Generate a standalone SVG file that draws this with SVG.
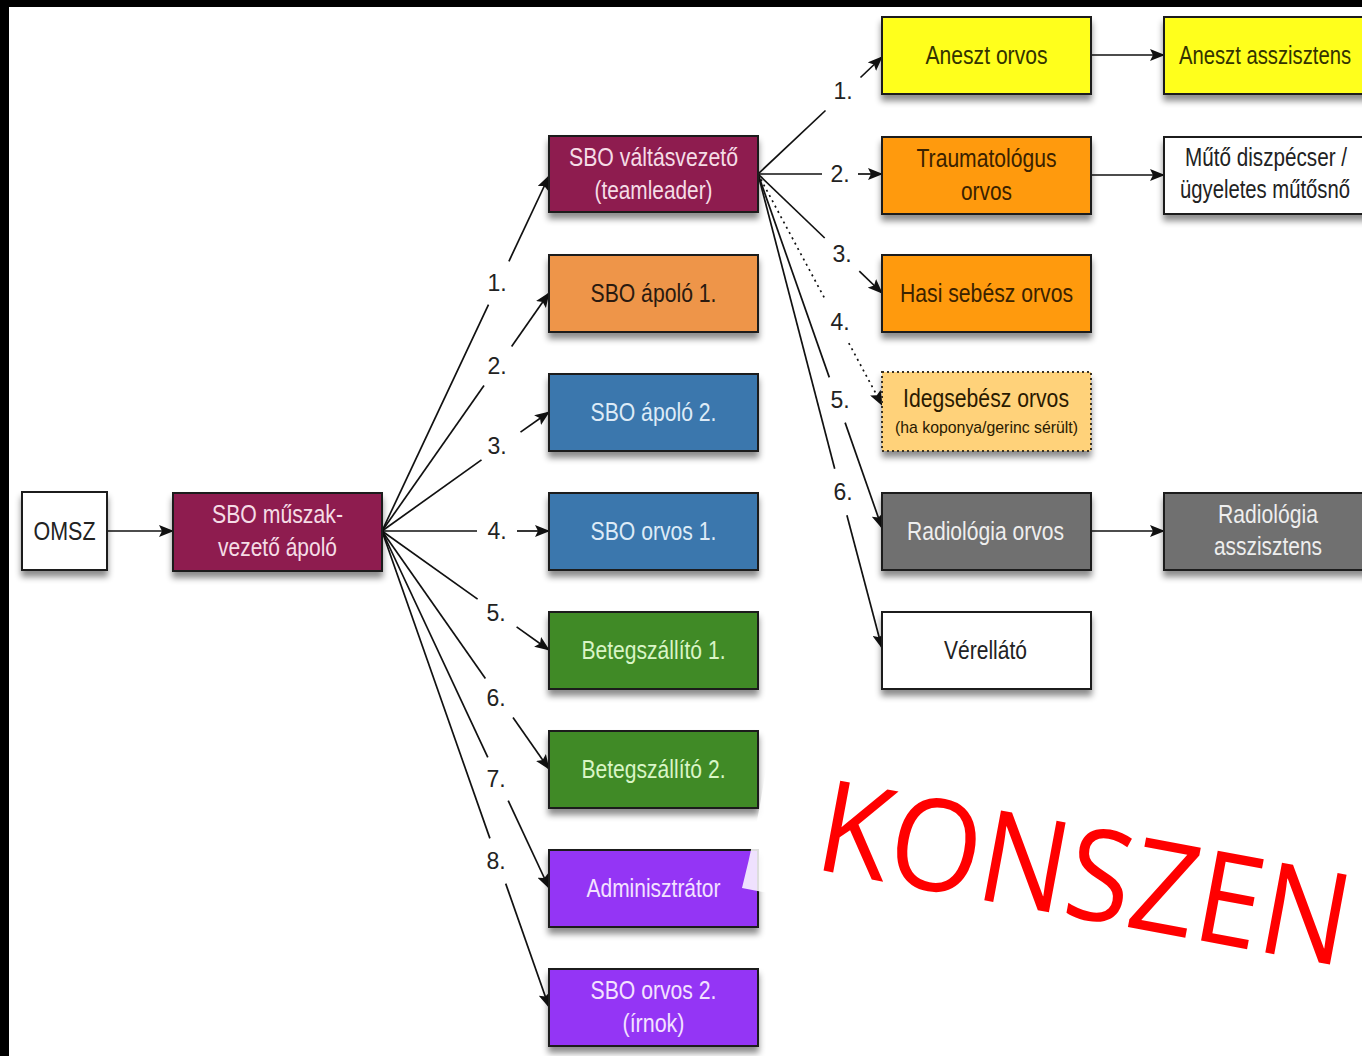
<svg xmlns="http://www.w3.org/2000/svg" width="1362" height="1056" viewBox="0 0 1362 1056">
<defs>
<filter id="sh" x="-10%" y="-20%" width="125%" height="150%">
<feDropShadow dx="0" dy="6" stdDeviation="3" flood-color="#000" flood-opacity="0.45"/>
</filter>
<marker id="ah" markerWidth="15" markerHeight="12" refX="14" refY="6" orient="auto" markerUnits="userSpaceOnUse">
<path d="M0,0 L15,6 L0,12 L3,6 Z" fill="#111"/>
</marker>
</defs>
<style>
.box{stroke:#1c1c1c;stroke-width:2;filter:url(#sh)}
.t{font-family:"Liberation Sans",Arial,sans-serif;font-size:26px;text-anchor:middle}
.lbl{font-family:"Liberation Sans",Arial,sans-serif;font-size:23px;fill:#222;text-anchor:middle}
.e{stroke:#111;stroke-width:1.7;fill:none}
.a{marker-end:url(#ah)}
.dot{stroke-dasharray:2,4}
</style>
<rect x="0" y="0" width="1362" height="1056" fill="#ffffff"/>
<rect x="0" y="0" width="1362" height="7" fill="#000"/>
<rect x="0" y="0" width="9" height="1056" fill="#000"/>

<g id="connectors">
<path class="e a" d="M107,531 L173,531"/>
<path class="e" d="M382,531 L488.5,304.7"/><path class="e a" d="M508.9,261.3 L549,176"/>
<path class="e" d="M382,531 L484,385.6"/><path class="e a" d="M511.6,346.4 L549,293"/>
<path class="e" d="M382,531 L481.5,459.9"/><path class="e a" d="M520.5,432.1 L549,412"/>
<path class="e" d="M382,531 L477,531"/><path class="e a" d="M517,531 L549,531"/>
<path class="e" d="M382,531 L477.6,599.1"/><path class="e a" d="M516.6,626.9 L549,650"/>
<path class="e" d="M382,531 L485.4,678.4"/><path class="e a" d="M513,717.6 L549,769"/>
<path class="e" d="M382,531 L487.8,757.3"/><path class="e a" d="M508.2,800.7 L549,888"/>
<path class="e" d="M382,531 L489.9,838.4"/><path class="e a" d="M505.7,883.6 L549,1007"/>
<text class="lbl" x="497" y="291">1.</text>
<text class="lbl" x="497" y="374">2.</text>
<text class="lbl" x="497" y="454">3.</text>
<text class="lbl" x="497" y="539">4.</text>
<text class="lbl" x="496" y="621">5.</text>
<text class="lbl" x="496" y="706">6.</text>
<text class="lbl" x="496" y="787">7.</text>
<text class="lbl" x="496" y="869">8.</text>

<path class="e" d="M758,174 L825.5,110.5"/><path class="e a" d="M860.5,77.5 L882,57"/>
<path class="e" d="M758,174 L822,174"/><path class="e a" d="M858,174 L882,174"/>
<path class="e" d="M758,174 L824.7,238"/><path class="e a" d="M859.3,271.2 L882,293"/>
<path class="e dot" d="M758,174 L826,300.9"/><path class="e dot a" d="M848.8,343.1 L882,405"/>
<path class="e" d="M758,174 L829.3,377.4"/><path class="e a" d="M845.1,422.6 L882,528"/>
<path class="e" d="M758,174 L834.7,468.8"/><path class="e a" d="M846.9,515.2 L882,648"/>
<text class="lbl" x="843" y="99">1.</text>
<text class="lbl" x="840" y="182">2.</text>
<text class="lbl" x="842" y="262">3.</text>
<text class="lbl" x="840" y="330">4.</text>
<text class="lbl" x="840" y="408">5.</text>
<text class="lbl" x="843" y="500">6.</text>

<path class="e a" d="M1091,55 L1164,55"/>
<path class="e a" d="M1091,175 L1164,175"/>
<path class="e a" d="M1091,531 L1164,531"/>
</g>

<g id="omsz"><rect class="box" x="22" y="492" width="85" height="78" fill="#ffffff"/><text class="t" x="64.5" y="540" fill="#222" textLength="62" lengthAdjust="spacingAndGlyphs">OMSZ</text></g>
<g id="sbo_muszakvezeto"><rect class="box" x="173" y="493" width="209" height="78" fill="#8E1A50"/><text class="t" x="277.5" y="523" fill="#F5DCE6" textLength="131" lengthAdjust="spacingAndGlyphs">SBO műszak-</text><text class="t" x="277.5" y="556" fill="#F5DCE6" textLength="119" lengthAdjust="spacingAndGlyphs">vezető ápoló</text></g>

<g id="teamleader"><rect class="box" x="549" y="136" width="209" height="76" fill="#8E1A50"/><text class="t" x="653.5" y="166" fill="#F5DCE6" textLength="169" lengthAdjust="spacingAndGlyphs">SBO váltásvezető</text><text class="t" x="653.5" y="199" fill="#F5DCE6" textLength="118" lengthAdjust="spacingAndGlyphs">(teamleader)</text></g>
<g id="apolo1"><rect class="box" x="549" y="255" width="209" height="77" fill="#EE9548"/><text class="t" x="653.5" y="302" fill="#2A1A10" textLength="126" lengthAdjust="spacingAndGlyphs">SBO ápoló 1.</text></g>
<g id="apolo2"><rect class="box" x="549" y="374" width="209" height="77" fill="#3A77AD"/><text class="t" x="653.5" y="421" fill="#DDEBF7" textLength="126" lengthAdjust="spacingAndGlyphs">SBO ápoló 2.</text></g>
<g id="orvos1"><rect class="box" x="549" y="493" width="209" height="77" fill="#3A77AD"/><text class="t" x="653.5" y="540" fill="#DDEBF7" textLength="126" lengthAdjust="spacingAndGlyphs">SBO orvos 1.</text></g>
<g id="betegszallito1"><rect class="box" x="549" y="612" width="209" height="77" fill="#3F8A25"/><text class="t" x="653.5" y="659" fill="#D9F5C6" textLength="144" lengthAdjust="spacingAndGlyphs">Betegszállító 1.</text></g>
<g id="betegszallito2"><rect class="box" x="549" y="731" width="209" height="77" fill="#3F8A25"/><text class="t" x="653.5" y="778" fill="#D9F5C6" textLength="144" lengthAdjust="spacingAndGlyphs">Betegszállító 2.</text></g>
<g id="adminisztrator"><rect class="box" x="549" y="850" width="209" height="77" fill="#9436F5"/><text class="t" x="653.5" y="897" fill="#F3E2FF" textLength="134" lengthAdjust="spacingAndGlyphs">Adminisztrátor</text></g>
<g id="orvos2"><rect class="box" x="549" y="969" width="209" height="77" fill="#9436F5"/><text class="t" x="653.5" y="999" fill="#F3E2FF" textLength="126" lengthAdjust="spacingAndGlyphs">SBO orvos 2.</text><text class="t" x="653.5" y="1032" fill="#F3E2FF" textLength="62" lengthAdjust="spacingAndGlyphs">(írnok)</text></g>

<g id="aneszt_orvos"><rect class="box" x="882" y="17" width="209" height="77" fill="#FFFF1A"/><text class="t" x="986.5" y="64" fill="#333300" textLength="122" lengthAdjust="spacingAndGlyphs">Aneszt orvos</text></g>
<g id="aneszt_asszisztens"><rect class="box" x="1164" y="17" width="210" height="77" fill="#FFFF1A"/><text class="t" x="1265" y="64" fill="#333300" textLength="172" lengthAdjust="spacingAndGlyphs">Aneszt asszisztens</text></g>
<g id="traumatologus"><rect class="box" x="882" y="137" width="209" height="77" fill="#FF9A0A"/><text class="t" x="986.5" y="167" fill="#3A2200" textLength="140" lengthAdjust="spacingAndGlyphs">Traumatológus</text><text class="t" x="986.5" y="200" fill="#3A2200" textLength="51" lengthAdjust="spacingAndGlyphs">orvos</text></g>
<g id="muto_diszpecser"><rect class="box" x="1164" y="137" width="210" height="77" fill="#ffffff"/><text class="t" x="1266" y="166" fill="#222" textLength="162" lengthAdjust="spacingAndGlyphs">Műtő diszpécser /</text><text class="t" x="1265" y="198" fill="#222" textLength="170" lengthAdjust="spacingAndGlyphs">ügyeletes műtősnő</text></g>
<g id="hasi_sebesz"><rect class="box" x="882" y="255" width="209" height="77" fill="#FF9A0A"/><text class="t" x="986.5" y="302" fill="#3A2200" textLength="173" lengthAdjust="spacingAndGlyphs">Hasi sebész orvos</text></g>
<g id="idegsebesz"><rect class="box dot" x="882" y="372" width="209" height="79" fill="#FFD27A" style="stroke:#3a3020;stroke-dasharray:2,3"/><text class="t" x="986" y="407" fill="#2A1A00" textLength="166" lengthAdjust="spacingAndGlyphs">Idegsebész orvos</text><text class="t" x="986.5" y="433" fill="#2A1A00" style="font-size:17px" textLength="183" lengthAdjust="spacingAndGlyphs">(ha koponya/gerinc sérült)</text></g>
<g id="radiologia_orvos"><rect class="box" x="882" y="493" width="209" height="77" fill="#6F6F6F"/><text class="t" x="985.5" y="540" fill="#EEEEEE" textLength="157" lengthAdjust="spacingAndGlyphs">Radiológia orvos</text></g>
<g id="radiologia_asszisztens"><rect class="box" x="1164" y="493" width="210" height="77" fill="#6F6F6F"/><text class="t" x="1268" y="523" fill="#EEEEEE" textLength="100" lengthAdjust="spacingAndGlyphs">Radiológia</text><text class="t" x="1268" y="555" fill="#EEEEEE" textLength="108" lengthAdjust="spacingAndGlyphs">asszisztens</text></g>
<g id="verellato"><rect class="box" x="882" y="612" width="209" height="77" fill="#ffffff"/><text class="t" x="985.5" y="659" fill="#222" textLength="83" lengthAdjust="spacingAndGlyphs">Vérellátó</text></g>

<path d="M771,728 Q762,810 742,888 L1362,1005 L1362,728 Z" fill="#ffffff" opacity="0.85"/>
<text transform="translate(820,870) rotate(10.5)" x="-8" y="0" font-family="'Open Sans','Liberation Sans',sans-serif" font-size="128" fill="#FF0000" textLength="538" lengthAdjust="spacingAndGlyphs">KONSZEN</text>
</svg>
